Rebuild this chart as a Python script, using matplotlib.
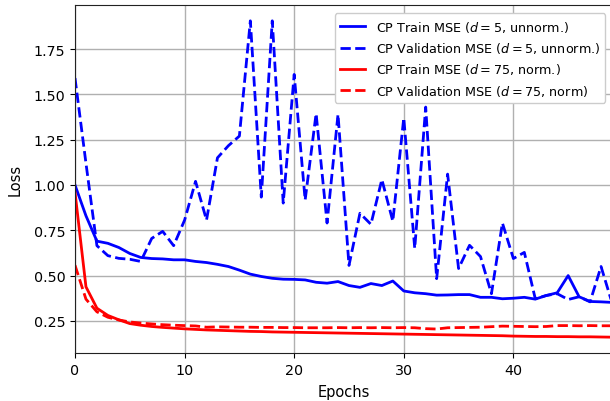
import numpy as np
import matplotlib
matplotlib.use("Agg")
import matplotlib.pyplot as plt

epochs = np.arange(50)

# d = 5, unnormalised
train_d5 = [1.00, 0.83, 0.69, 0.678, 0.655, 0.622, 0.60, 0.594, 0.592, 0.587,
            0.587, 0.578, 0.572, 0.562, 0.55, 0.53, 0.508, 0.495, 0.485, 0.48,
            0.479, 0.476, 0.463, 0.458, 0.467, 0.445, 0.435, 0.456, 0.445, 0.47,
            0.415, 0.405, 0.40, 0.392, 0.393, 0.395, 0.395, 0.38, 0.38, 0.372,
            0.375, 0.38, 0.370, 0.39, 0.405, 0.50, 0.383, 0.357, 0.355, 0.352]
val_d5 = [1.59, 1.12, 0.665, 0.61, 0.595, 0.59, 0.578, 0.705, 0.744, 0.665,
          0.806, 1.02, 0.806, 1.15, 1.217, 1.27, 1.906, 0.933, 1.906, 0.90,
          1.61, 0.917, 1.394, 0.79, 1.39, 0.556, 0.844, 0.783, 1.03, 0.80,
          1.37, 0.65, 1.43, 0.483, 1.06, 0.539, 0.667, 0.605, 0.40, 0.79,
          0.594, 0.628, 0.372, 0.39, 0.40, 0.368, 0.383, 0.355, 0.55, 0.35]

# d = 75, normalised
train_d75 = [0.96, 0.438, 0.32, 0.28, 0.256, 0.235, 0.226, 0.219, 0.214, 0.210,
             0.206, 0.203, 0.200, 0.198, 0.196, 0.194, 0.192, 0.191, 0.189, 0.188,
             0.187, 0.186, 0.185, 0.184, 0.183, 0.182, 0.181, 0.180, 0.179, 0.178,
             0.177, 0.176, 0.175, 0.174, 0.173, 0.172, 0.171, 0.170, 0.169, 0.168,
             0.166, 0.165, 0.164, 0.164, 0.163, 0.163, 0.162, 0.162, 0.161, 0.160]
val_d75 = [0.557, 0.37, 0.30, 0.27, 0.255, 0.244, 0.238, 0.233, 0.229, 0.226,
           0.224, 0.222, 0.215, 0.217, 0.216, 0.215, 0.215, 0.214, 0.214, 0.213,
           0.213, 0.212, 0.212, 0.212, 0.213, 0.212, 0.213, 0.212, 0.213, 0.212,
           0.213, 0.212, 0.207, 0.205, 0.212, 0.213, 0.214, 0.215, 0.218, 0.221,
           0.22, 0.219, 0.218, 0.219, 0.224, 0.224, 0.223, 0.224, 0.223, 0.223]

fig = plt.figure(figsize=(6.1, 4.02), dpi=100)
ax = fig.add_axes([75/610, 48/402, 537/610, 348/402])

ax.plot(epochs, train_d5, color="blue", lw=2, label=r"CP Train MSE ($d=5$, unnorm.)")
ax.plot(epochs, val_d5, color="blue", lw=2, ls="--", label=r"CP Validation MSE ($d=5$, unnorm.)")
ax.plot(epochs, train_d75, color="red", lw=2, label=r"CP Train MSE ($d=75$, norm.)")
ax.plot(epochs, val_d75, color="red", lw=2, ls="--", label=r"CP Validation MSE ($d=75$, norm)")

ax.set_xlim(0, 49)
ax.set_yticks([0.25, 0.5, 0.75, 1.0, 1.25, 1.5, 1.75])
ax.set_xticks([0, 10, 20, 30, 40])
ax.grid(True, color="#b0b0b0", lw=1)
ax.set_axisbelow(True)
ax.tick_params(labelsize=10.3)
ax.set_xlabel("Epochs", fontsize=10.5, labelpad=5.5)
ax.set_ylabel("Loss", fontsize=10.5, labelpad=8)
ax.spines["right"].set_visible(False)
for s in ["left", "bottom", "top"]:
    ax.spines[s].set_color("#222222")

ax.legend(loc="upper right", fontsize=9.2, framealpha=1, bbox_to_anchor=(0.999, 0.994))

fig.savefig("out.png", dpi=100)
